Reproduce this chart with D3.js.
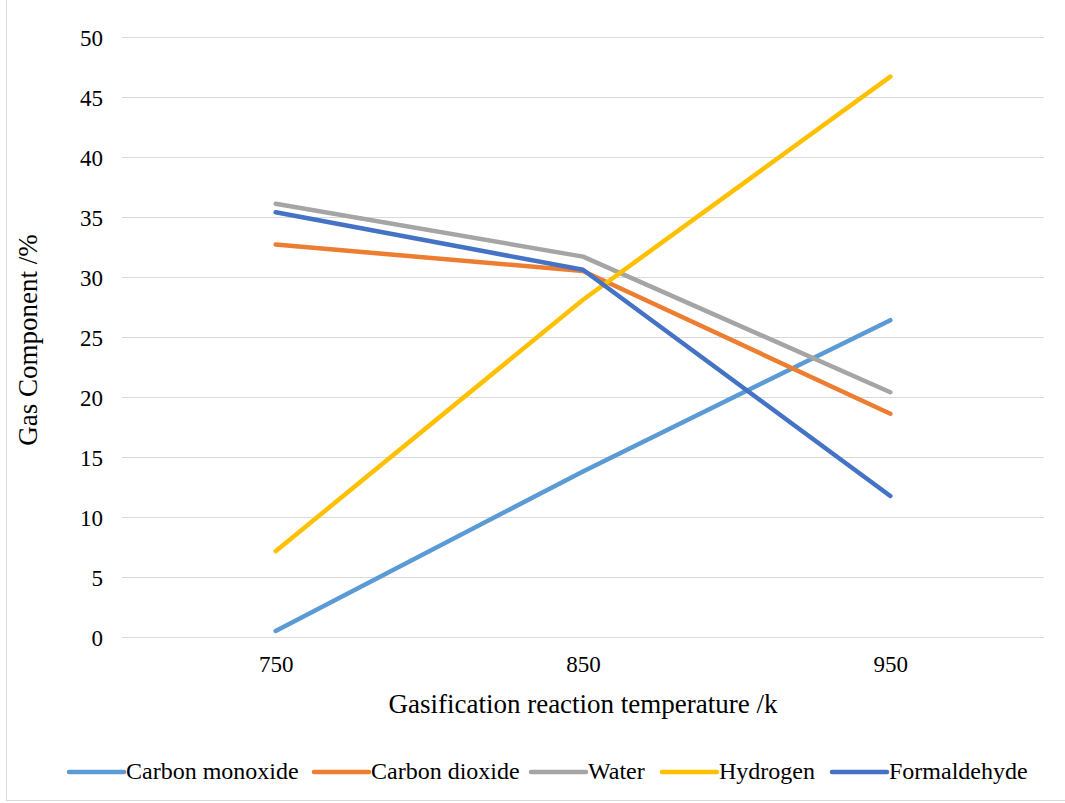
<!DOCTYPE html>
<html><head><meta charset="utf-8">
<script src="https://cdn.jsdelivr.net/npm/d3@7"></script>
<style>body{margin:0;background:#fff;} svg{display:block;font-family:"Liberation Serif","Times New Roman",serif;}</style>
</head><body>
<script>
const categories = ["750", "850", "950"];
const seriesNames = ["Carbon monoxide", "Carbon dioxide", "Water", "Hydrogen", "Formaldehyde"];
const carbonMonoxide = [0.5, 13.8, 26.4];
const carbonDioxide = [32.7, 30.5, 18.6];
const water = [36.1, 31.7, 20.4];
const hydrogen = [7.15, 28.1, 46.7];
const formaldehyde = [35.4, 30.6, 11.75];
const yTicks = [0, 5, 10, 15, 20, 25, 30, 35, 40, 45, 50];
const colors = ["#5B9BD5", "#ED7D31", "#A5A5A5", "#FFC000", "#4472C4"];
const seriesValues = [carbonMonoxide, carbonDioxide, water, hydrogen, formaldehyde];

const W = 1065, H = 803;
const svg = d3.select("body").append("svg").attr("width", W).attr("height", H);
svg.append("rect").attr("x", 6.5).attr("y", -1).attr("width", W).attr("height", 801.5)
  .attr("fill", "#fff").attr("stroke", "#d9d9d9").attr("stroke-width", 1);

const x = d3.scalePoint().domain(categories).range([122, 1044]).padding(0.5);
const y = d3.scaleLinear().domain([0, 50]).range([637, 37]);

const g = svg.append("g");
g.selectAll("line.grid").data(yTicks).enter().append("line")
  .attr("x1", 122).attr("x2", 1044)
  .attr("y1", d => Math.round(y(d)) + 0.5).attr("y2", d => Math.round(y(d)) + 0.5)
  .attr("stroke", "#d9d9d9").attr("stroke-width", 1);

const yAxis = d3.axisLeft(y).tickValues(yTicks).tickSize(0).tickPadding(0);
svg.append("g").attr("transform", "translate(103,0)").call(yAxis)
  .call(s => s.select(".domain").remove())
  .selectAll("text").attr("font-size", 23).attr("fill", "#000").attr("dy", "0.35em")
  .attr("font-family", "Liberation Serif, serif");

const xAxis = d3.axisBottom(x).tickSize(0).tickPadding(0);
svg.append("g").attr("transform", "translate(0,672)").call(xAxis)
  .call(s => s.select(".domain").remove())
  .selectAll("text").attr("font-size", 23).attr("fill", "#000").attr("dy", "0")
  .attr("font-family", "Liberation Serif, serif");

svg.append("text").attr("x", 583).attr("y", 713).attr("text-anchor", "middle")
  .attr("font-size", 27).text("Gasification reaction temperature /k");
svg.append("text").attr("transform", "translate(37,340) rotate(-90)").attr("text-anchor", "middle")
  .attr("font-size", 27).text("Gas Component /%");

const line = d3.line().x((d, i) => x(categories[i])).y(d => y(d));
seriesValues.forEach((vals, k) => {
  svg.append("path").attr("d", line(vals)).attr("fill", "none")
    .attr("stroke", colors[k]).attr("stroke-width", 4.5)
    .attr("stroke-linecap", "round").attr("stroke-linejoin", "round");
});

const legendX = [69, 314, 531, 662, 832];
const leg = svg.append("g");
seriesNames.forEach((n, k) => {
  leg.append("line").attr("x1", legendX[k]).attr("x2", legendX[k] + 55)
    .attr("y1", 772).attr("y2", 772).attr("stroke", colors[k]).attr("stroke-width", 4.5)
    .attr("stroke-linecap", "round");
  leg.append("text").attr("x", legendX[k] + 57).attr("y", 779).attr("font-size", 24).text(n);
});
</script>
</body></html>
